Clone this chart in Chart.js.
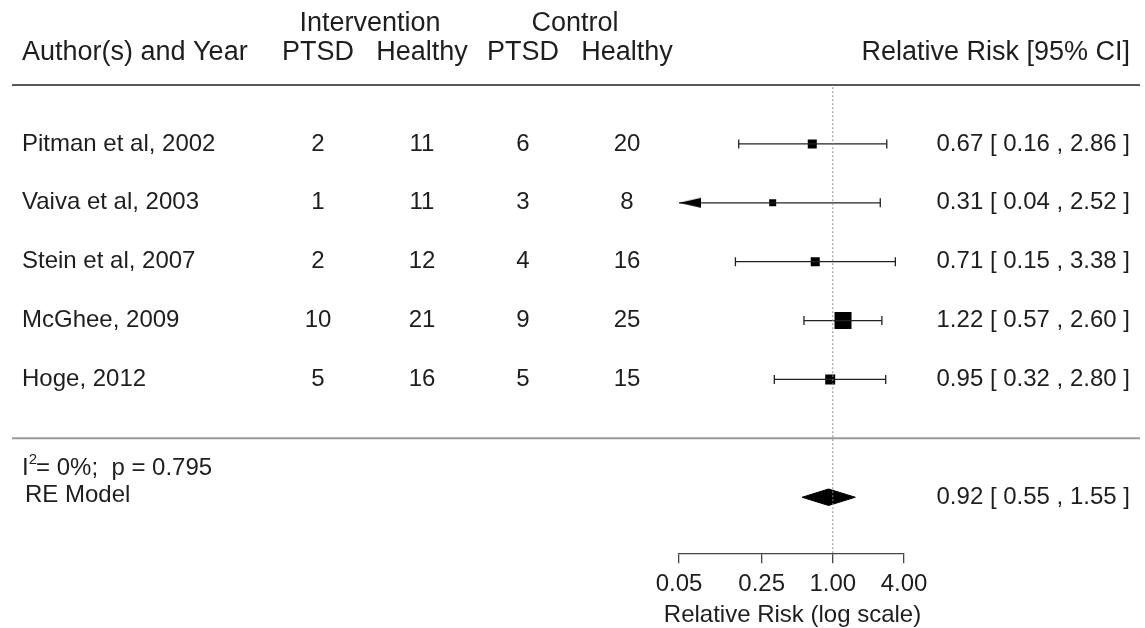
<!DOCTYPE html>
<html>
<head>
<meta charset="utf-8">
<title>Forest plot</title>
<script src="https://cdn.jsdelivr.net/npm/chart.js@4.4.0/dist/chart.umd.min.js"></script>
<style>
  html, body { margin: 0; padding: 0; background: #fff; }
  #wrap { width: 1145px; height: 628px; position: relative; }
</style>
</head>
<body>
<div id="wrap"><canvas id="forest"></canvas></div>
<script>
// Studies, top to bottom as in the plot
const studies = ['Pitman et al, 2002', 'Vaiva et al, 2003', 'Stein et al, 2007', 'McGhee, 2009', 'Hoge, 2012'];
const intPTSD = [2, 1, 2, 10, 5];
const intHealthy = [11, 11, 12, 21, 16];
const ctrlPTSD = [6, 3, 4, 9, 5];
const ctrlHealthy = [20, 8, 16, 25, 15];
const rr = [0.67, 0.31, 0.71, 1.22, 0.95];
const ciLow = [0.16, 0.04, 0.15, 0.57, 0.32];
const ciHigh = [2.86, 2.52, 3.38, 2.60, 2.80];

// RE model summary
const summaryLabel = 'RE Model';
const summaryRR = 0.92;
const summaryLow = 0.55;
const summaryHigh = 1.55;
const hetParts = ['I', '2', '= 0%;  p = 0.795'];

// axis
const xTicks = [0.05, 0.25, 1, 4];
const xMin = 0.05, xMax = 4;
const xTitle = 'Relative Risk (log scale)';
const refValue = 1;

// look
const FONT = '"Liberation Sans", Arial, Helvetica, sans-serif';
const INK = '#1e1e1e';
const markerHalf = [4.5, 3.5, 4.5, 8.5, 5];   // half side of the weight squares, px
const yMin = -1.95, yMax = 6;
const summaryRow = -1;
const diamondHalf = 0.14;               // in row units
const colX = [318, 422, 523, 627];      // centres of the four count columns
const fmt = v => v.toFixed(2);

const rows = studies.map((s, i) => studies.length - i);

// left-pointing arrow for a CI cut off at the axis limit (tip sits at the point)
function makeArrow() {
  const c = document.createElement('canvas');
  c.width = 44; c.height = 12;
  const g = c.getContext('2d');
  g.fillStyle = '#000';
  g.beginPath();
  g.moveTo(22, 6);
  g.lineTo(44, 1);
  g.lineTo(44, 11);
  g.closePath();
  g.fill();
  return c;
}
const arrow = makeArrow();

const datasets = [];

// dotted reference line at RR = 1
datasets.push({
  data: [{ x: refValue, y: yMin }, { x: refValue, y: yMax }],
  showLine: true,
  borderColor: '#8a8a8a',
  borderWidth: 1,
  borderDash: [2, 2],
  pointRadius: 0
});

// confidence intervals
studies.forEach((s, i) => {
  const cut = ciLow[i] < xMin;
  datasets.push({
    data: [{ x: cut ? xMin : ciLow[i], y: rows[i] }, { x: ciHigh[i], y: rows[i] }],
    showLine: true,
    borderColor: '#222',
    borderWidth: 1.3,
    pointStyle: [cut ? arrow : 'line', 'line'],
    pointRotation: [cut ? 0 : 90, 90],
    pointRadius: 4.5,
    pointBorderColor: '#222',
    pointBorderWidth: 1.3
  });
});

// point estimates
datasets.push({
  data: rr.map((v, i) => ({ x: v, y: rows[i] })),
  pointStyle: 'rect',
  pointRadius: markerHalf.map(h => h / Math.SQRT1_2),
  backgroundColor: '#000',
  borderColor: '#000',
  borderWidth: 0
});

// summary diamond
datasets.push({
  data: [
    { x: summaryLow, y: summaryRow },
    { x: summaryRR, y: summaryRow + diamondHalf },
    { x: summaryHigh, y: summaryRow },
    { x: summaryRR, y: summaryRow - diamondHalf },
    { x: summaryLow, y: summaryRow }
  ],
  showLine: true,
  fill: 'shape',
  tension: 0,
  borderColor: '#000',
  backgroundColor: '#000',
  borderWidth: 1,
  pointRadius: 0
});

const tablePlugin = {
  id: 'forestTable',
  beforeDatasetsDraw(chart) {
    const { ctx, scales: { y } } = chart;
    ctx.save();
    ctx.lineWidth = 2;
    ctx.strokeStyle = '#5a5a5a';
    let py = y.getPixelForValue(yMax);
    ctx.beginPath(); ctx.moveTo(12, py); ctx.lineTo(1140, py); ctx.stroke();
    ctx.strokeStyle = '#9a9a9a';
    py = y.getPixelForValue(0);
    ctx.beginPath(); ctx.moveTo(12, py); ctx.lineTo(1140, py); ctx.stroke();
    ctx.restore();
  },
  afterDraw(chart) {
    const { ctx, scales: { x: xs, y } } = chart;
    ctx.save();
    ctx.fillStyle = INK;
    ctx.textBaseline = 'middle';

    // header
    ctx.font = '27px ' + FONT;
    ctx.textAlign = 'center';
    ctx.fillText('Intervention', (colX[0] + colX[1]) / 2, y.getPixelForValue(7.05));
    ctx.fillText('Control', (colX[2] + colX[3]) / 2, y.getPixelForValue(7.05));
    const hy = y.getPixelForValue(6.55);
    ['PTSD', 'Healthy', 'PTSD', 'Healthy'].forEach((t, i) => ctx.fillText(t, colX[i], hy));
    ctx.textAlign = 'left';
    ctx.fillText('Author(s) and Year', 22, hy);
    ctx.textAlign = 'right';
    ctx.fillText('Relative Risk [95% CI]', 1130, hy);

    // study rows
    ctx.font = '24px ' + FONT;
    studies.forEach((s, i) => {
      const ry = y.getPixelForValue(rows[i]);
      ctx.textAlign = 'left';
      ctx.fillText(s, 22, ry);
      ctx.textAlign = 'center';
      [intPTSD[i], intHealthy[i], ctrlPTSD[i], ctrlHealthy[i]].forEach((v, j) => ctx.fillText(String(v), colX[j], ry));
      ctx.textAlign = 'right';
      ctx.fillText(`${fmt(rr[i])} [ ${fmt(ciLow[i])} , ${fmt(ciHigh[i])} ]`, 1130, ry);
    });

    // heterogeneity + summary
    const ey = y.getPixelForValue(-0.51);
    ctx.textAlign = 'left';
    let x = 22;
    ctx.fillText(hetParts[0], x, ey);
    x += ctx.measureText(hetParts[0]).width;
    ctx.font = '15px ' + FONT;
    ctx.fillText(hetParts[1], x, ey - 9);
    x += ctx.measureText(hetParts[1]).width - 1;
    ctx.font = '24px ' + FONT;
    ctx.fillText(hetParts[2], x, ey);

    const sy = y.getPixelForValue(summaryRow);
    ctx.fillText(summaryLabel, 25, sy - 2);
    ctx.textAlign = 'right';
    ctx.fillText(`${fmt(summaryRR)} [ ${fmt(summaryLow)} , ${fmt(summaryHigh)} ]`, 1130, sy);

    // axis title, centred under the log axis (not squeezed to the axis width)
    ctx.textAlign = 'center';
    ctx.textBaseline = 'alphabetic';
    ctx.fillText(xTitle, (xs.left + xs.right) / 2 + 1, 622);
    ctx.restore();
  }
};

Chart.defaults.font.family = FONT;
Chart.defaults.color = INK;

new Chart(document.getElementById('forest'), {
  type: 'scatter',
  data: { datasets },
  options: {
    responsive: true,
    maintainAspectRatio: false,
    animation: false,
    layout: { padding: { left: 679, right: 241, top: 85, bottom: 22 } },
    plugins: { legend: { display: false }, tooltip: { enabled: false } },
    elements: { line: { tension: 0 } },
    scales: {
      x: {
        type: 'logarithmic',
        min: xMin,
        max: xMax,
        afterBuildTicks: scale => { scale.ticks = xTicks.map(v => ({ value: v })); },
        ticks: {
          autoSkip: false,
          maxRotation: 0,
          padding: 7,
          font: { family: FONT, size: 24 },
          color: INK,
          callback: v => fmt(v)
        },
        grid: { drawOnChartArea: false, drawTicks: true, tickLength: 10, color: '#444', lineWidth: 1.3 },
        border: { display: true, color: '#444', width: 1.3 },
        title: { display: false }
      },
      y: { type: 'linear', min: yMin, max: yMax, display: false }
    }
  },
  plugins: [tablePlugin]
});
</script>
</body>
</html>
